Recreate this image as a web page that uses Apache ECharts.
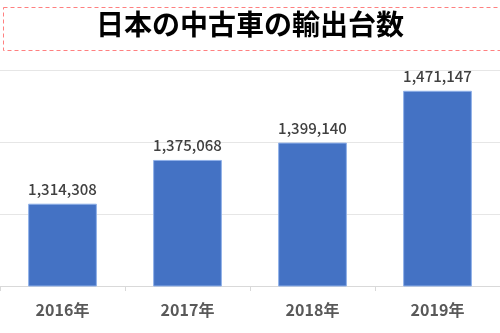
<!DOCTYPE html>
<html><head><meta charset="utf-8">
<script src="https://cdn.jsdelivr.net/npm/echarts@6/dist/echarts.min.js"></script>
<style>html,body{margin:0;padding:0;background:#fff}#c{width:500px;height:333px}</style>
</head><body><div id="c"></div>
<script>
var titleText = '日本の中古車の輸出台数';
var categories = ['2016年', '2017年', '2018年', '2019年'];
var values = [1314308, 1375068, 1399140, 1471147];
var yMin = 1200000, yMax = 1500000, yInterval = 100000;

var chart = echarts.init(document.getElementById('c'));
chart.setOption({
  animation: false,
  backgroundColor: '#fff',
  graphic: [{
    type: 'rect', left: 1, top: 5,
    shape: { width: 497, height: 43 },
    style: { fill: 'none', stroke: '#ff8080', lineWidth: 1, lineDash: [4, 3] }
  }, {
    type: 'text', left: 'center', top: 10,
    style: { text: titleText, font: 'bold 28px "Noto Sans CJK JP"', fill: '#000' }
  }],
  grid: { left: 0, right: 0, top: 70, bottom: 47 },
  xAxis: {
    type: 'category', data: categories,
    axisLine: { lineStyle: { color: '#d9d9d9' } },
    axisTick: { show: true, length: 5, lineStyle: { color: '#d9d9d9' } },
    axisLabel: { color: '#595959', fontSize: 16, fontWeight: 'bold', fontFamily: '"Noto Sans CJK JP"', margin: 16 }
  },
  yAxis: {
    type: 'value', min: yMin, max: yMax, interval: yInterval,
    axisLabel: { show: false }, axisLine: { show: false }, axisTick: { show: false },
    splitLine: { lineStyle: { color: '#e6e6e6' } }
  },
  series: [{
    type: 'bar', data: values, barWidth: '55%',
    itemStyle: { color: '#4472c4', borderColor: '#8fb0e8', borderWidth: 1 },
    label: {
      show: true, position: 'top', distance: 7,
      color: '#404040', fontSize: 15, fontWeight: 500, fontFamily: '"Noto Sans CJK JP"',
      formatter: function (p) { return p.value.toLocaleString('en-US'); }
    }
  }]
});
</script></body></html>
